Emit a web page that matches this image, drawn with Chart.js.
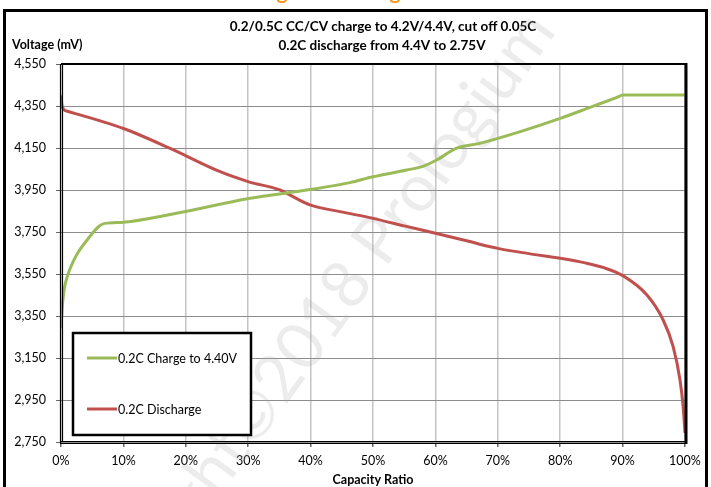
<!DOCTYPE html>
<html><head><meta charset="utf-8">
<script src="https://cdn.jsdelivr.net/npm/chart.js@4.4.1/dist/chart.umd.min.js"></script>
<style>html,body{margin:0;padding:0;background:#fff}#wrap{width:711px;height:487px;position:relative}</style>
</head><body><div id="wrap"><canvas id="c" width="711" height="487"></canvas></div>
<script>
// ---- data (x = capacity ratio %, y = voltage mV) ----
const chargeX = [0, 0.2, 0.5, 1.2, 2, 2.8, 4.4, 6, 7, 10, 18.3, 30.1, 39.9, 46.3, 50, 55.4, 58.1, 60.2, 63.4, 67.1, 73.6, 80, 85, 89, 90.1, 90.6, 100];
const chargeY = [3290, 3390, 3475, 3555, 3612, 3656, 3720, 3775, 3791, 3797, 3838, 3910, 3952, 3985, 4013, 4045, 4064, 4093, 4149, 4172, 4228, 4291, 4346, 4390, 4402, 4402, 4402];
const dischargeX = [0, 0.2, 1, 10, 17.5, 25.5, 30.1, 35.1, 36.2, 39.9, 44.7, 50, 55, 60, 65, 70, 75, 80, 84, 87, 90.1, 93.9, 96.5, 98.1, 99.2, 99.7, 100];
const dischargeY = [4400, 4345, 4325, 4243, 4148, 4037, 3989, 3950, 3934, 3879, 3847, 3815, 3779, 3744, 3708, 3672, 3647, 3625, 3603, 3580, 3541, 3450, 3331, 3204, 3045, 2918, 2793];
const seriesLabels = ['0.2C Charge to 4.40V', '0.2C Discharge'];
const yTicks = [2750, 2950, 3150, 3350, 3550, 3750, 3950, 4150, 4350, 4550];
const xTicks = [0, 10, 20, 30, 40, 50, 60, 70, 80, 90, 100];
const titleLines = ['0.2/0.5C CC/CV charge to 4.2V/4.4V, cut off 0.05C', '0.2C discharge from 4.4V to 2.75V'];
const yTitle = 'Voltage (mV)';
const xTitle = 'Capacity Ratio';
const topText = 'Charge / Discharge';
const watermark = 'Copyright\u00A92018 Prologium';

const GREEN = '#9BBB59', RED = '#C0504D';
const FONT = 'Lato, "Open Sans", sans-serif';

const toPts = (xs, ys) => xs.map((x, i) => ({x: x, y: ys[i]}));

const deco = {
  id: 'deco',
  beforeDraw(chart) {
    const ctx = chart.ctx;
    ctx.save();
    ctx.fillStyle = '#fff';
    ctx.fillRect(0, 0, chart.width, chart.height);
    ctx.fillStyle = '#F59A1B';
    ctx.font = 'bold 21px ' + FONT;
    ctx.textAlign = 'center';
    ctx.textBaseline = 'alphabetic';
    ctx.fillText(topText, 322, -1);
    ctx.strokeStyle = '#000';
    ctx.lineWidth = 3;
    ctx.beginPath();
    ctx.moveTo(4.5, 490); ctx.lineTo(4.5, 10.5); ctx.lineTo(706.5, 10.5); ctx.lineTo(706.5, 490);
    ctx.stroke();
    ctx.fillStyle = '#000';
    ctx.font = 'bold 13.5px ' + FONT;
    ctx.textBaseline = 'middle';
    ctx.fillText(titleLines[0], 383, 27);
    ctx.fillText(titleLines[1], 382, 46);
    ctx.font = 'bold 12.5px ' + FONT;
    ctx.textAlign = 'left';
    ctx.fillText(yTitle, 12, 45);
    ctx.textAlign = 'center';
    ctx.fillText(xTitle, 373, 480);
    ctx.restore();
  },
  beforeDatasetsDraw(chart) {
    const ctx = chart.ctx;
    ctx.save();
    ctx.translate(525, 8);
    ctx.rotate(-54 * Math.PI / 180);
    ctx.font = '66px ' + FONT;
    ctx.textAlign = 'right';
    ctx.textBaseline = 'alphabetic';
    ctx.fillStyle = 'rgba(170,170,170,0.22)';
    ctx.fillText(watermark, 0, 40);
    ctx.restore();
  },
  afterDatasetsDraw(chart) {
    const ctx = chart.ctx;
    const a = chart.chartArea;
    ctx.save();
    ctx.strokeStyle = '#000';
    ctx.lineWidth = 2;
    ctx.beginPath(); ctx.moveTo(a.left, a.top); ctx.lineTo(a.right + 1.5, a.top); ctx.stroke();
    ctx.lineWidth = 3;
    ctx.beginPath(); ctx.moveTo(a.right + 1, a.top - 1); ctx.lineTo(a.right + 1, a.bottom + 2); ctx.stroke();
    ctx.lineWidth = 1.2;
    ctx.beginPath(); ctx.moveTo(a.left - 0.5, a.top); ctx.lineTo(a.left - 0.5, a.bottom + 2); ctx.stroke();
    ctx.beginPath(); ctx.moveTo(a.left + 1.5, a.top); ctx.lineTo(a.left + 1.5, a.bottom); ctx.stroke();
    ctx.beginPath(); ctx.moveTo(a.left - 1, a.bottom + 1.5); ctx.lineTo(a.right + 2, a.bottom + 1.5); ctx.stroke();
    ctx.beginPath(); ctx.moveTo(a.left, a.bottom - 0.5); ctx.lineTo(a.right, a.bottom - 0.5); ctx.stroke();
    const lx = 73, ly = 333, lw = 178, lh = 102;
    ctx.fillStyle = '#fff';
    ctx.fillRect(lx, ly, lw, lh);
    ctx.lineWidth = 2.5;
    ctx.strokeRect(lx, ly, lw, lh);
    const rows = [358, 409];
    chart.data.datasets.forEach((ds, i) => {
      ctx.strokeStyle = ds.borderColor;
      ctx.lineWidth = 3;
      ctx.beginPath(); ctx.moveTo(87, rows[i]); ctx.lineTo(117, rows[i]); ctx.stroke();
      ctx.fillStyle = '#000';
      ctx.font = '12.5px ' + FONT;
      ctx.textAlign = 'left';
      ctx.textBaseline = 'middle';
      ctx.fillText(ds.label, 118, rows[i] + 1);
    });
    ctx.restore();
  }
};

new Chart(document.getElementById('c'), {
  type: 'line',
  data: {
    datasets: [
      {label: seriesLabels[0], data: toPts(chargeX, chargeY), borderColor: GREEN, borderWidth: 3, pointRadius: 0, cubicInterpolationMode: 'monotone', fill: false},
      {label: seriesLabels[1], data: toPts(dischargeX, dischargeY), borderColor: RED, borderWidth: 3, pointRadius: 0, cubicInterpolationMode: 'monotone', fill: false}
    ]
  },
  options: {
    responsive: false,
    animation: false,
    devicePixelRatio: 1,
    layout: {padding: {top: 64, right: 26, left: 0, bottom: 0}},
    plugins: {legend: {display: false}, title: {display: false}, tooltip: {enabled: false}},
    scales: {
      x: {
        type: 'linear', min: 0, max: 100,
        afterBuildTicks: s => { s.ticks = xTicks.map(v => ({value: v})); },
        afterFit: s => { s.height = 45; },
        ticks: {callback: v => v + '%', color: '#000', font: {family: FONT, size: 12.5}, padding: 6, maxRotation: 0, autoSkip: false},
        grid: {color: '#c4c4c4', lineWidth: 1.5, tickLength: 5, tickColor: '#666'},
        border: {display: false}
      },
      y: {
        type: 'linear', min: 2750, max: 4550,
        afterBuildTicks: s => { s.ticks = yTicks.map(v => ({value: v})); },
        afterFit: s => { s.width = 61; },
        ticks: {callback: v => v.toLocaleString('en-US'), color: '#000', font: {family: FONT, size: 12.5}, padding: 10, autoSkip: false},
        grid: {color: '#8c8c8c', lineWidth: 1, tickLength: 5, tickColor: '#666'},
        border: {display: false}
      }
    }
  },
  plugins: [deco]
});
</script></body></html>
